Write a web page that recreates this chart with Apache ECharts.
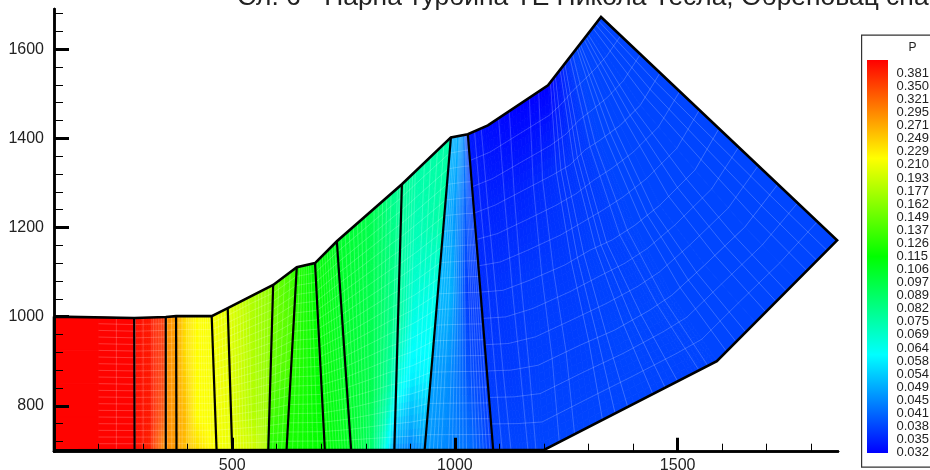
<!DOCTYPE html>
<html><head><meta charset="utf-8">
<style>html,body{margin:0;padding:0;background:#fff;overflow:hidden}#c{width:930px;height:470px}</style>
<script src="https://cdn.jsdelivr.net/npm/echarts@6/dist/echarts.min.js"></script>
</head><body><div id="c"></div>
<script>
// ---------- data (axis units, pressure P) ----------
const titleText = 'Сл. 6 - Парна турбина ТЕ Никола Тесла, Обреновац снага';
const legendLevels = [0.381,0.350,0.321,0.295,0.271,0.249,0.229,0.210,0.193,0.177,0.162,0.149,0.137,0.126,0.115,0.106,0.097,0.089,0.082,0.075,0.069,0.064,0.058,0.054,0.049,0.045,0.041,0.038,0.035,0.032];
const xMajorTicks = [500,1000,1500];
const xMinorTicks = [200,300,400,600,700,800,900,1100,1200,1300,1400,1600,1700,1800];
const yMajorTicks = [800,1000,1200,1400,1600];
const yMinorTicks = [720,760,840,880,920,960,1040,1080,1120,1160,1240,1280,1320,1360,1440,1480,1520,1560,1640,1680];

// outline of the section
const outline = [[100,1000],[280,997],[351,999],[374,1001],[454,1001],[490,1019],[592,1071],[645,1111],[686,1120],[735,1169],[881,1297],[991,1402],[1029,1409],[1074,1429],[1209,1519],[1328,1672],[1858,1171],[1588,900],[1200,701],[100,700],[100,1000]];
// blade-row divider lines: bottom x, top x, top y
const dividerBotX = [281,351,375,465,500,581,622,708,767,864,932,1086];
const dividerTopX = [280,351,374,454,490,592,645,686,735,881,991,1029];
const dividerTopY = [997,999,1001,1001,1019,1071,1111,1120,1169,1297,1402,1409];

// passage stations
const stationBotX = [100,200,280,284,316,349,354,375,394,421,465,500,551,578,581,621,624,704,708,767,814,848,864,899,932,934,978,1034,1086];
const stationTopX = [100,200,280,284,316,349,354,374,394,421,454,490,544,589,592,643,647,681,686,735,809,866,881,917,990,992,1007,1020,1029];
const stationTopY = [1000,999,997,997,998,999,999,1001,1001,1001,1001,1019,1048,1070,1071,1109,1111,1118,1120,1169,1234,1284,1297,1333,1401,1402,1405,1408,1409];
// P at each station: bottom, 1/4, 1/2, 3/4, top
const stationP = [
 [.41,.41,.41,.41,.41],[.41,.41,.41,.41,.41],[.41,.41,.41,.41,.41],
 [.40,.40,.40,.40,.40],
 [.38,.39,.39,.39,.39],
 [.28,.33,.35,.36,.36],
 [.29,.29,.29,.29,.29],
 [.28,.28,.28,.28,.28],
 [.26,.26,.25,.24,.24],
 [.24,.22,.22,.22,.22],
 [.215,.215,.215,.215,.215],
 [.21,.205,.205,.205,.205],
 [.195,.18,.18,.18,.18],
 [.18,.172,.165,.165,.165],
 [.125,.14,.15,.155,.155],
 [.125,.13,.14,.14,.13],
 [.122,.125,.13,.13,.125],
 [.115,.115,.115,.115,.115],
 [.115,.115,.115,.115,.115],
 [.105,.105,.105,.105,.105],
 [.087,.095,.095,.095,.095],
 [.061,.078,.083,.083,.08],
 [.047,.066,.078,.078,.08],
 [.044,.058,.066,.072,.076],
 [.047,.06,.064,.076,.076],
 [.047,.048,.051,.05,.05],
 [.045,.046,.05,.047,.05],
 [.042,.039,.037,.04,.045],
 [.037,.037,.037,.037,.035]
];
// streamwise mesh lines inside each passage cell
const passageMeshLines = [0,1,3,1,8,10,1,2,6,6,4,7,5,1,3,1,6,1,8,7,5,2,5,4,1,4,6,6];

// exit-hood mesh nodes, one row per station from the lower edge to the upper edge
const hoodX = [
 [1086,1072,1059,1043,1029],
 [1146,1126,1108,1090,1074],
 [1200,1187,1169,1155,1146],
 [1303,1281,1247,1218,1209],
 [1416,1359,1303,1258,1231],
 [1528,1438,1353,1292,1252],
 [1588,1487,1404,1326,1270],
 [1674,1561,1460,1371,1285],
 [1768,1651,1539,1416,1303],
 [1858,1725,1593,1460,1328]
];
const hoodY = [
 [700,878,1055,1232,1409],
 [700,880,1059,1250,1429],
 [700,891,1082,1284,1477],
 [754,936,1116,1317,1519],
 [813,970,1149,1340,1547],
 [869,1015,1172,1374,1574],
 [900,1048,1205,1396,1597],
 [988,1116,1250,1429,1617],
 [1080,1201,1329,1474,1640],
 [1171,1297,1422,1546,1672]
];
const hoodP = [
 [.038,.037,.036,.035,.034],
 [.038,.037,.0365,.035,.033],
 [.038,.0375,.037,.035,.032],
 [.038,.0375,.037,.036,.032],
 [.038,.038,.0375,.0365,.034],
 [.0378,.038,.0375,.037,.0365],
 [.038,.038,.038,.038,.038],
 [.038,.038,.038,.038,.038],
 [.038,.038,.038,.038,.038],
 [.038,.038,.038,.038,.038]
];
const hoodMeshLines = [2,2,2,3,3,2,3,3,3];

// ---------- colour scale of the legend ----------
const FONT = '"Liberation Sans", Arial, sans-serif';
const BAR_TOP = 60, BAR_H = 393, LABEL_TOP = 73.3, LABEL_STEP = 13.08;
function levelIndex(p){
  const L = legendLevels;
  if (p >= L[0]) return -(p-L[0])/(L[0]-L[1]);
  for (let i=0;i<L.length-1;i++) if (p>=L[i+1]) return i+(L[i]-p)/(L[i]-L[i+1]);
  return L.length-1;
}
function rainbow(f){
  f=Math.max(0,Math.min(1,f))*4;
  let r,g,b;
  if(f<1){r=255;g=255*f;b=0}
  else if(f<2){r=255*(2-f);g=255;b=0}
  else if(f<3){r=0;g=255;b=255*(f-2)}
  else {r=0;g=255*(4-f);b=255}
  return 'rgb('+Math.round(r)+','+Math.round(g)+','+Math.round(b)+')';
}
function colourOf(p){ return rainbow((LABEL_TOP+LABEL_STEP*levelIndex(p)-BAR_TOP)/BAR_H); }

// ---------- grids of nodes ----------
const ROW_FRAC=[0,.25,.5,.75,1];
const domains=[
  {n:stationBotX.length,P:stationP,at(i,j){const v=ROW_FRAC[j];return [stationBotX[i]+(stationTopX[i]-stationBotX[i])*v,700+(stationTopY[i]-700)*v];}},
  {n:hoodX.length,P:hoodP,at(i,j){return [hoodX[i][j],hoodY[i][j]];}}
];
const cells=[];
domains.forEach((d,k)=>{for(let i=0;i<d.n-1;i++)for(let j=0;j<4;j++)cells.push([k,i,j]);});
function blend(a,b,c,e,u,v){return (1-u)*(1-v)*a+u*(1-v)*b+u*v*c+(1-u)*v*e;}
function renderCell(params,api){
  const d=domains[api.value(0)],i=api.value(1),j=api.value(2);
  const A=d.at(i,j),B=d.at(i+1,j),C=d.at(i+1,j+1),E=d.at(i,j+1);
  const pa=d.P[i][j],pb=d.P[i+1][j],pc=d.P[i+1][j+1],pe=d.P[i][j+1];
  const same=pa===pb&&pb===pc&&pc===pe;
  const nu=same?1:8,nv=same?1:10,children=[];
  const pt=(u,v)=>api.coord([blend(A[0],B[0],C[0],E[0],u,v),blend(A[1],B[1],C[1],E[1],u,v)]);
  for(let a=0;a<nu;a++)for(let b=0;b<nv;b++){
    const u0=a/nu,u1=(a+1)/nu,v0=b/nv,v1=(b+1)/nv,c=colourOf(blend(pa,pb,pc,pe,(u0+u1)/2,(v0+v1)/2));
    children.push({type:'polygon',silent:true,shape:{points:[pt(u0,v0),pt(u1,v0),pt(u1,v1),pt(u0,v1)]},style:{fill:c,stroke:c,lineWidth:.8}});
  }
  return {type:'group',children};
}
// thin mesh lines
const meshLines=[];
function addMesh(d,perCell,spanSub,skipSpanFirst){
  const node=(i,u,j,w)=>{const a=d.at(i,j),b=d.at(i+1,j),c=d.at(i+1,j+1),e=d.at(i,j+1);
    return [blend(a[0],b[0],c[0],e[0],u,w),blend(a[1],b[1],c[1],e[1],u,w)];};
  for(let i=0;i<d.n-1;i++){
    const m=perCell[i];
    for(let q=1;q<=m;q++){const u=q/(m+1),line=[];
      for(let j=0;j<4;j++)line.push(node(i,u,j,0));line.push(node(i,u,3,1));meshLines.push(line);}
  }
  for(let j=0;j<4;j++)for(let s=(j===0?1:0);s<spanSub;s++){
    const w=s/spanSub,line=[];
    for(let i=skipSpanFirst?1:0;i<d.n-1;i++){line.push(node(i,0,j,w));}
    line.push(node(d.n-2,1,j,w));meshLines.push(line);
  }
}
addMesh(domains[0],passageMeshLines,5,true);
addMesh(domains[1],hoodMeshLines,3,false);

const dividerIdx=dividerBotX.map((_,i)=>[i]);
const tickStyle=(w,l)=>({show:true,inside:true,length:l,lineStyle:{color:'#000',width:w}});
const xBase={type:'value',min:100,max:1860,z:10,splitLine:{show:false},position:'bottom',
  axisLine:{show:true,onZero:false,lineStyle:{color:'#000',width:2.5}}};
const yBase={type:'value',min:697,max:1690,z:10,splitLine:{show:false},position:'left',
  axisLine:{show:true,onZero:false,lineStyle:{color:'#000',width:2.5}}};
const labelStyle={show:true,color:'#222',fontSize:16,fontFamily:FONT,formatter:v=>String(v)};

const legendGraphics=[
  {type:'rect',left:861,top:34.5,shape:{width:90,height:432},style:{fill:'#fff',stroke:'#333',lineWidth:1.2},z:20},
  {type:'text',left:908.5,top:42,style:{text:'P',font:'12px '+FONT,fill:'#222'},z:21},
  {type:'rect',left:867,top:BAR_TOP,shape:{width:21,height:BAR_H},z:21,style:{fill:new echarts.graphic.LinearGradient(0,0,0,1,[
    {offset:0,color:'#ff0000'},{offset:.25,color:'#ffff00'},{offset:.5,color:'#00ff00'},{offset:.75,color:'#00ffff'},{offset:1,color:'#0000ff'}])}}
].concat(legendLevels.map((v,i)=>({type:'text',left:896.5,top:LABEL_TOP+LABEL_STEP*i-6.5,z:21,
  style:{text:v.toFixed(3),font:'13px '+FONT,fill:'#222'}})));

const chart=echarts.init(document.getElementById('c'),null,{renderer:'canvas'});
chart.setOption({
  animation:false,backgroundColor:'#fff',
  title:{text:titleText,left:232,top:-20,textStyle:{fontFamily:FONT,fontSize:26.4,fontWeight:'normal',color:'#222'}},
  grid:{left:54,top:9,width:784,height:442.7,containLabel:false,outerBoundsMode:'none'},
  xAxis:[
    Object.assign({},xBase,{axisTick:Object.assign(tickStyle(3,14),{customValues:xMajorTicks}),
      axisLabel:Object.assign({},labelStyle,{customValues:xMajorTicks,margin:6})}),
    Object.assign({},xBase,{axisTick:Object.assign(tickStyle(1,8),{customValues:xMinorTicks}),
      axisLabel:{show:false}})
  ],
  yAxis:[
    Object.assign({},yBase,{axisTick:Object.assign(tickStyle(3,15),{customValues:yMajorTicks}),
      axisLabel:Object.assign({},labelStyle,{customValues:yMajorTicks,margin:10})}),
    Object.assign({},yBase,{axisTick:Object.assign(tickStyle(1,9),{customValues:yMinorTicks}),
      axisLabel:{show:false}})
  ],
  graphic:legendGraphics,
  series:[
    {type:'custom',name:'P',coordinateSystem:'cartesian2d',z:2,clip:false,silent:true,progressive:0,renderItem:renderCell,data:cells},
    {type:'custom',name:'mesh',coordinateSystem:'cartesian2d',z:3,clip:false,silent:true,progressive:0,data:meshLines.map((_,i)=>[i]),
      encode:{x:0,y:0},
      renderItem:(p,api)=>({type:'polyline',silent:true,shape:{points:meshLines[api.value(0)].map(q=>api.coord(q))},
        style:{fill:null,stroke:'rgba(255,255,255,.3)',lineWidth:.7}})},
    {type:'custom',name:'blades',coordinateSystem:'cartesian2d',z:4,clip:false,silent:true,progressive:0,data:dividerIdx,
      encode:{x:0,y:0},
      renderItem:(p,api)=>{const i=api.value(0);return {type:'line',silent:true,
        shape:(()=>{const a=api.coord([dividerBotX[i],700]),b=api.coord([dividerTopX[i],dividerTopY[i]]);return {x1:a[0],y1:a[1],x2:b[0],y2:b[1]};})(),
        style:{stroke:'#000',lineWidth:2.2}};}},
    {type:'line',name:'outline',z:5,clip:false,silent:true,showSymbol:false,symbol:'none',data:outline,lineStyle:{color:'#000',width:2.6,join:'miter'}}
  ]
});
</script></body></html>
